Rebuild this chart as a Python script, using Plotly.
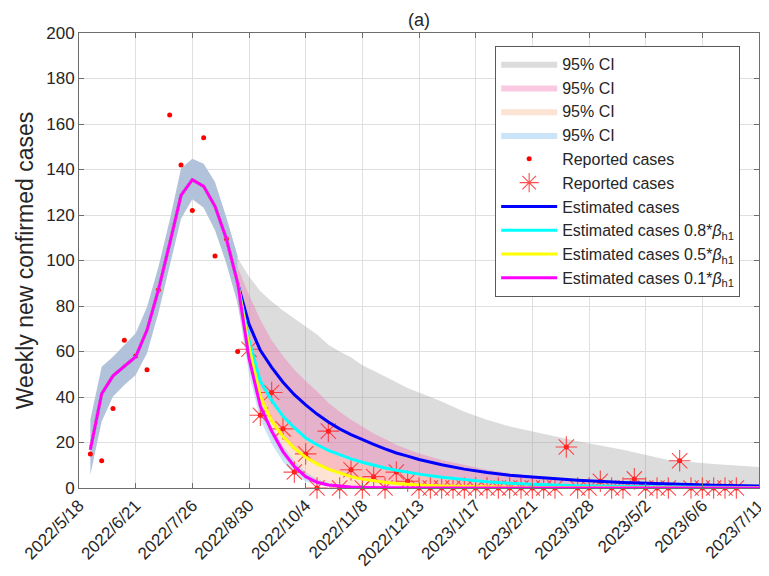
import plotly.graph_objects as go

# ---------------- data ----------------
tick_weeks = list(range(0, 61, 5))
tick_labels = ["2022/5/18", "2022/6/21", "2022/7/26", "2022/8/30", "2022/10/4",
               "2022/11/8", "2022/12/13", "2023/1/17", "2023/2/21", "2023/3/28",
               "2023/5/2", "2023/6/6", "2023/7/11"]

fit_weeks = list(range(1, 15))
reported_fit = [15, 12, 35, 65, 58, 52, 87, 164, 142, 122, 154, 102, 109.6, 60]
fit_estimate = [16.8, 41.4, 49.3, 53.4, 57.7, 69.4, 87, 107.4, 128.6, 135.5, 132.6, 123.8, 109.6, 90]
fit_ci_upper = [30, 53.3, 57.7, 62.8, 68, 79.6, 97, 117.7, 140.4, 144.7, 142.5, 134.5, 119, 102]
fit_ci_lower = [5.8, 29.2, 40.2, 45.3, 49.7, 59.2, 76.8, 97.2, 118.4, 126.9, 123.2, 113.3, 98.7, 81]

star_weeks = list(range(15, 59))
reported_proj = [61, 32, 42, 26, 7, 15, 0, 25, 0, 8, 0, 5, 0, 7, 3, 0,
                 0, 0, 0, 0, 0, 0, 0, 0, 0, 0, 0, 0,
                 18, 0, 0, 3, 0, 0, 4, 0, 0, 0, 12, 0, 0, 0, 0, 0]

proj_weeks = [14, 15, 16, 17, 18, 19, 20, 21, 22, 23, 24, 25, 26, 27, 28, 29, 30,
              32, 34, 36, 38, 40, 44, 48, 52, 56, 60]
est_blue = [90, 72, 60.5, 53, 46.5, 41, 36.5, 32.5, 29, 26, 23.5, 21.2, 19.2, 17.2, 15.4, 14, 12.5,
            10.2, 8.3, 6.8, 5.6, 4.8, 3.4, 2.4, 1.7, 1.2, 0.9]
est_cyan = [90, 65, 47, 38.5, 31.5, 26.5, 22, 19, 16.5, 14.5, 12.8, 11.3, 10, 8.8, 7.8, 6.9, 6.1,
            4.7, 3.6, 2.8, 2.1, 1.6, 1.0, 0.6, 0.4, 0.3, 0.2]
est_yellow = [90, 62, 40, 29.5, 22.6, 17.5, 13.5, 10.6, 8.3, 6.5, 5.0, 3.9, 3.1, 2.5, 2.0, 1.6, 1.3,
              0.9, 0.65, 0.5, 0.35, 0.25, 0.15, 0.1, 0.08, 0.06, 0.05]
est_magenta = [90, 57, 36, 25, 16, 9.5, 5, 2.5, 1.3, 0.7, 0.4, 0.25, 0.15, 0.1, 0.08, 0.06, 0.05,
               0.03, 0.02, 0.02, 0.01, 0.01, 0, 0, 0, 0, 0]

gray_upper = [101, 93, 86.5, 82, 78, 74.5, 71, 67.5, 63, 60, 57.5, 54, 51.5, 49, 46.5, 44, 42,
              38, 33.5, 30, 27, 24.8, 20.6, 16.8, 12.3, 10.5, 9.2]
gray_lower = [81, 58, 45, 37, 30.5, 26, 22, 19, 16.5, 14.5, 13, 11.5, 10.2, 9, 8, 7.2, 6.4,
              5.2, 4.2, 3.4, 2.8, 2.3, 1.6, 1.1, 0.8, 0.6, 0.4]
pink_upper = [97, 85, 74, 65, 58, 52, 47, 42.5, 37.5, 33.5, 30, 27, 24, 21.5, 19, 17, 15.2,
              12.3, 10, 8, 6.5, 5.3, 3.6, 2.5, 1.8, 1.3, 1.0]
pink_lower = [81, 60, 39, 28.5, 21.5, 16.5, 12.8, 10, 7.8, 6.1, 4.7, 3.7, 2.9, 2.3, 1.9, 1.5, 1.2,
              0.85, 0.6, 0.45, 0.33, 0.24, 0.14, 0.1, 0.07, 0.05, 0.04]
peach_upper = [92, 65, 47, 38.5, 31.5, 26.5, 22, 19, 16.5, 14.5, 12.8, 11.3, 10, 8.8, 7.8, 6.9, 6.1,
               4.7, 3.6, 2.8, 2.1, 1.6, 1.0, 0.6, 0.4, 0.3, 0.2]
peach_lower = [81, 53, 33, 22.5, 14, 8.3, 4.4, 2.2, 1.1, 0.6, 0.3, 0.2, 0.1, 0.08, 0.06, 0.05, 0.04,
               0.02, 0.01, 0.01, 0, 0, 0, 0, 0, 0, 0]
lblue_upper = [92, 60, 38.5, 27, 18.5, 12, 7, 4, 2.3, 1.3, 0.8, 0.5, 0.35, 0.25, 0.2, 0.15, 0.12,
               0.08, 0.05, 0.04, 0.03, 0.02, 0.01, 0, 0, 0, 0]
lblue_lower = [81, 50, 30, 19.5, 11.5, 6, 3, 1.4, 0.7, 0.3, 0.15, 0.08, 0.05, 0.03, 0.02, 0.01, 0.01,
               0, 0, 0, 0, 0, 0, 0, 0, 0, 0]

# ---------------- figure ----------------
FONT = "Liberation Sans, Arial, Helvetica, sans-serif"
TXT = "#262626"
fig = go.Figure()


def band(xs, lo, hi, color, name, show=True):
    fig.add_trace(go.Scatter(
        x=list(xs) + list(xs)[::-1], y=list(hi) + list(lo)[::-1],
        fill="toself", fillcolor=color, mode="lines", line=dict(width=0, color=color),
        name=name, showlegend=show, hoverinfo="skip"))


band(proj_weeks, gray_lower, gray_upper, "rgba(150,150,150,0.33)", "95% CI")
band(proj_weeks, pink_lower, pink_upper, "rgba(245,110,180,0.38)", "95% CI")
band(proj_weeks, peach_lower, peach_upper, "rgba(250,170,125,0.33)", "95% CI")
band(proj_weeks, lblue_lower, lblue_upper, "rgba(140,195,240,0.45)", "95% CI")
band(fit_weeks, fit_ci_lower, fit_ci_upper, "rgb(178,194,218)", "fit CI", show=False)

fig.add_trace(go.Scatter(
    x=fit_weeks + star_weeks, y=reported_fit + reported_proj, mode="markers",
    marker=dict(size=5, color="red"), name="Reported cases", cliponaxis=False))
fig.add_trace(go.Scatter(
    x=star_weeks, y=reported_proj, mode="markers",
    marker=dict(symbol="asterisk-open", size=18, color="rgba(255,45,45,0.85)",
                line=dict(width=1.1, color="rgba(255,45,45,0.85)")),
    name="Reported cases", cliponaxis=False))

line_x = fit_weeks[:-1] + proj_weeks
for vals, col, nm in [
    (est_blue, "#0000FF", "Estimated cases"),
    (est_cyan, "#00FFFF", "Estimated cases 0.8*<i>β</i><sub>h1</sub>"),
    (est_yellow, "#FFFF00", "Estimated cases 0.5*<i>β</i><sub>h1</sub>"),
    (est_magenta, "#FF00FF", "Estimated cases 0.1*<i>β</i><sub>h1</sub>"),
]:
    fig.add_trace(go.Scatter(x=line_x, y=fit_estimate[:-1] + vals, mode="lines",
                             line=dict(color=col, width=3), name=nm))

axis_common = dict(showline=True, linecolor="rgb(110,110,110)", linewidth=1, mirror="ticks",
                   ticks="inside", ticklen=5, tickcolor="rgb(110,110,110)",
                   showgrid=True, gridcolor="rgb(223,223,223)", gridwidth=1, zeroline=False,
                   automargin=False,
                   tickfont=dict(family=FONT, size=17, color=TXT))

# the page adds an 8px body margin, so the figure is sized 8px smaller than the window
fig.update_layout(
    width=761, height=568,
    margin=dict(l=71, r=10, t=25, b=88),
    paper_bgcolor="white", plot_bgcolor="white",
    font=dict(family=FONT, color=TXT),
    xaxis=dict(range=[0, 60], tickvals=tick_weeks, ticktext=tick_labels, tickangle=-45,
               **axis_common),
    yaxis=dict(range=[0, 200], dtick=20,
               title=dict(text="Weekly new confirmed cases", font=dict(family=FONT, size=23, color=TXT),
                          standoff=6),
               **axis_common),
    legend=dict(x=0.612, y=0.972, xanchor="left", yanchor="top",
                bgcolor="white", bordercolor="rgb(90,90,90)", borderwidth=1,
                font=dict(family=FONT, size=16, color=TXT), itemwidth=56,
                tracegroupgap=0),
    showlegend=True,
    annotations=[dict(text="(a)", xref="paper", yref="paper", x=0.5, y=1 + 13 / 455,
                      xanchor="center", yanchor="middle", showarrow=False,
                      font=dict(family=FONT, size=18, color=TXT))],
)

fig.write_html("out.html")
